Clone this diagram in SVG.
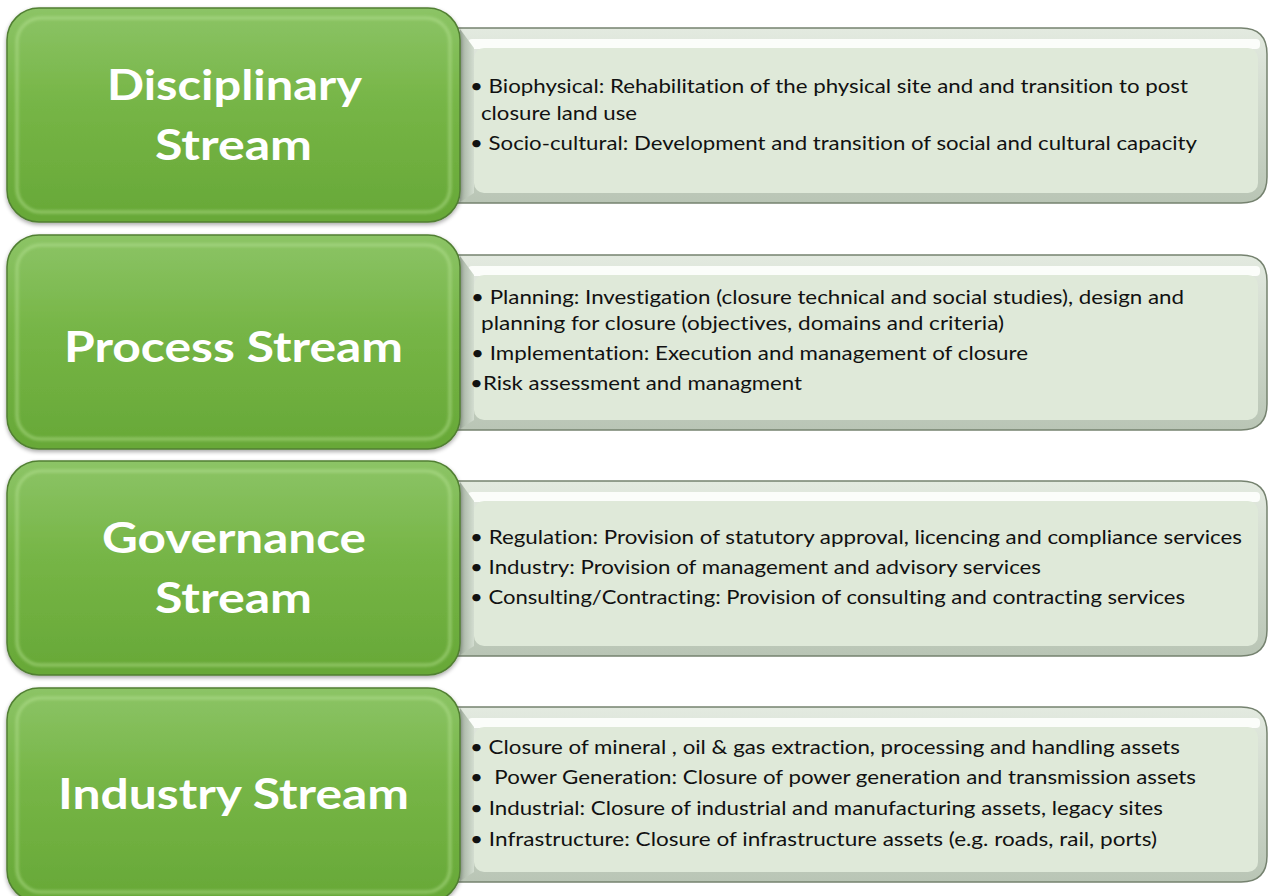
<svg xmlns="http://www.w3.org/2000/svg" xmlns:xlink="http://www.w3.org/1999/xlink" width="1268" height="896" viewBox="0 0 1268 896">
<defs>
<linearGradient id="gGreen" x1="0" y1="0" x2="0" y2="1">
<stop offset="0" stop-color="#8cc466"/>
<stop offset="0.45" stop-color="#76b546"/>
<stop offset="1" stop-color="#67a837"/>
</linearGradient>
<linearGradient id="gBevel" x1="0" y1="0" x2="0" y2="1">
<stop offset="0" stop-color="#e3eae0"/>
<stop offset="1" stop-color="#b9c5b5"/>
</linearGradient>
<linearGradient id="gLeft" x1="0" y1="0" x2="1" y2="0">
<stop offset="0" stop-color="#a4b1a1"/>
<stop offset="1" stop-color="#d3ddd0"/>
</linearGradient>
<filter id="blur" x="-5%" y="-5%" width="110%" height="110%">
<feGaussianBlur stdDeviation="1.8"/>
</filter>
<filter id="shadow" x="-5%" y="-5%" width="110%" height="115%">
<feGaussianBlur in="SourceAlpha" stdDeviation="2"/>
<feOffset dx="0" dy="2"/>
<feComponentTransfer><feFuncA type="linear" slope="0.35"/></feComponentTransfer>
<feMerge><feMergeNode/><feMergeNode in="SourceGraphic"/></feMerge>
</filter>
<g id="lightBox">
<path d="M440 28 H1241 Q1267 28 1267 54 V177 Q1267 203 1241 203 H440 Z" fill="url(#gBevel)" stroke="#75826f" stroke-width="1.5"/>
<rect x="468" y="39" width="792" height="10" rx="4" fill="#fbfdfa"/>
<polygon points="460,29 474,48 474,193 460,202" fill="url(#gLeft)"/>
<rect x="474" y="48" width="784" height="145" rx="10" fill="#dfe9d9"/>
</g>
<g id="greenBox">
<rect x="7" y="8" width="453" height="214" rx="32" fill="url(#gGreen)" stroke="#517f33" stroke-width="1.5"/>
<rect x="17" y="18" width="433" height="194" rx="24" fill="none" stroke="#b8e394" stroke-width="3" opacity="0.55" filter="url(#blur)"/>
</g>
</defs>
<style>
.title{font-family:Lato,"Open Sans","Liberation Sans",sans-serif;font-weight:700;font-size:42px;fill:#ffffff;font-variant-ligatures:none;font-feature-settings:"liga" 0}
.body{font-family:Lato,"Open Sans","Liberation Sans",sans-serif;font-size:19px;fill:#111111;white-space:pre;font-variant-ligatures:none;font-feature-settings:"liga" 0}
</style>
<rect x="0" y="0" width="1268" height="896" fill="#ffffff"/>
<g id="connectors"></g>

<g id="node-disciplinary">
<use xlink:href="#lightBox" href="#lightBox"/>
<use xlink:href="#greenBox" href="#greenBox" filter="url(#shadow)"/>
<text class="title" x="107" y="100" textLength="255" lengthAdjust="spacingAndGlyphs">Disciplinary</text>
<text class="title" x="155" y="160" textLength="157" lengthAdjust="spacingAndGlyphs">Stream</text>
<text class="body" x="470" y="93" textLength="718" lengthAdjust="spacingAndGlyphs">• Biophysical: Rehabilitation of the physical site and and transition to post</text>
<text class="body" x="481" y="120" textLength="156" lengthAdjust="spacingAndGlyphs">closure land use</text>
<text class="body" x="470" y="150" textLength="727" lengthAdjust="spacingAndGlyphs">• Socio-cultural: Development and transition of social and cultural capacity</text>
</g>

<g id="node-process">
<use xlink:href="#lightBox" href="#lightBox" transform="translate(0,227)"/>
<use xlink:href="#greenBox" href="#greenBox" transform="translate(0,227)" filter="url(#shadow)"/>
<text class="title" x="64" y="362" textLength="339" lengthAdjust="spacingAndGlyphs">Process Stream</text>
<text class="body" x="471" y="304" textLength="713" lengthAdjust="spacingAndGlyphs">• Planning: Investigation (closure technical and social studies), design and</text>
<text class="body" x="481" y="330" textLength="523" lengthAdjust="spacingAndGlyphs">planning for closure (objectives, domains and criteria)</text>
<text class="body" x="471" y="360" textLength="557" lengthAdjust="spacingAndGlyphs">• Implementation: Execution and management of closure</text>
<text class="body" x="470" y="390" textLength="332" lengthAdjust="spacingAndGlyphs">•Risk assessment and managment</text>
</g>

<g id="node-governance">
<use xlink:href="#lightBox" href="#lightBox" transform="translate(0,453)"/>
<use xlink:href="#greenBox" href="#greenBox" transform="translate(0,453)" filter="url(#shadow)"/>
<text class="title" x="102" y="553" textLength="264" lengthAdjust="spacingAndGlyphs">Governance</text>
<text class="title" x="155" y="613" textLength="157" lengthAdjust="spacingAndGlyphs">Stream</text>
<text class="body" x="470" y="544" textLength="772" lengthAdjust="spacingAndGlyphs">• Regulation: Provision of statutory approval, licencing and compliance services</text>
<text class="body" x="470" y="574" textLength="571" lengthAdjust="spacingAndGlyphs">• Industry: Provision of management and advisory services</text>
<text class="body" x="470" y="604" textLength="715" lengthAdjust="spacingAndGlyphs">• Consulting/Contracting: Provision of consulting and contracting services</text>
</g>

<g id="node-industry">
<use xlink:href="#lightBox" href="#lightBox" transform="translate(0,679)"/>
<use xlink:href="#greenBox" href="#greenBox" transform="translate(0,680)" filter="url(#shadow)"/>
<text class="title" x="58" y="809" textLength="351" lengthAdjust="spacingAndGlyphs">Industry Stream</text>
<text class="body" x="470" y="754" textLength="710" lengthAdjust="spacingAndGlyphs">• Closure of mineral , oil &amp; gas extraction, processing and handling assets</text>
<text class="body" x="470" y="784" textLength="726" lengthAdjust="spacingAndGlyphs">•  Power Generation: Closure of power generation and transmission assets</text>
<text class="body" x="470" y="815" textLength="693" lengthAdjust="spacingAndGlyphs">• Industrial: Closure of industrial and manufacturing assets, legacy sites</text>
<text class="body" x="470" y="846" textLength="687" lengthAdjust="spacingAndGlyphs">• Infrastructure: Closure of infrastructure assets (e.g. roads, rail, ports)</text>
</g>
</svg>
